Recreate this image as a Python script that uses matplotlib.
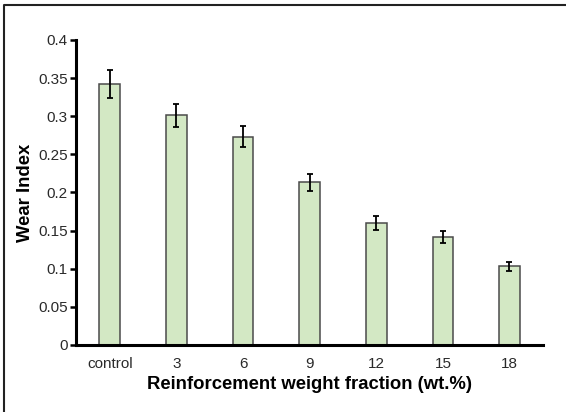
import matplotlib.pyplot as plt
from matplotlib.lines import Line2D

plt.rcParams['font.family'] = ['Liberation Sans', 'DejaVu Sans']

# data
categories = ['control', '3', '6', '9', '12', '15', '18']
wear_index = [0.342, 0.301, 0.273, 0.213, 0.160, 0.142, 0.103]
wear_err = [0.018, 0.015, 0.014, 0.011, 0.009, 0.008, 0.006]
y_ticks = [0, 0.05, 0.1, 0.15, 0.2, 0.25, 0.3, 0.35, 0.4]
y_tick_labels = ['0', '0.05', '0.1', '0.15', '0.2', '0.25', '0.3', '0.35', '0.4']

fig = plt.figure(figsize=(5.66, 4.12), dpi=100)
ax = fig.add_axes([0.134, 0.163, 0.825, 0.740])

x = range(len(categories))
ax.bar(x, wear_index, width=0.31, color='#d3e8c4', edgecolor='#4a4a4a',
       linewidth=1.1, zorder=2)
ax.errorbar(x, wear_index, yerr=wear_err, fmt='none', ecolor='black',
            elinewidth=1.3, capsize=2, capthick=1.3, zorder=3)

ax.set_xlim(-0.51, 6.5)
ax.set_ylim(0, 0.4)
ax.set_yticks(y_ticks)
ax.set_yticklabels(y_tick_labels)
ax.set_xticks(list(x))
ax.set_xticklabels(categories)

for side in ['top', 'right']:
    ax.spines[side].set_visible(False)
for side in ['left', 'bottom']:
    ax.spines[side].set_linewidth(2.2)
    ax.spines[side].set_color('black')

ax.tick_params(axis='y', direction='out', length=4, width=1.8, pad=2,
               labelsize=11, colors='black', labelcolor='#2a2a2a')
ax.tick_params(axis='x', length=0, pad=9, labelsize=11, labelcolor='#2a2a2a')

ax.set_xlabel('Reinforcement weight fraction (wt.%)', fontsize=13.3,
              fontweight='bold', labelpad=3)
ax.set_ylabel('Wear Index', fontsize=13.3, fontweight='bold', labelpad=3)

# outer frame (only top and left edges visible in the crop)
fig.add_artist(Line2D([4 / 566, 4 / 566, 1], [0, 1 - 5 / 412, 1 - 5 / 412],
                      transform=fig.transFigure, color='#222222', linewidth=1.5))

fig.savefig('out.png', dpi=100)
